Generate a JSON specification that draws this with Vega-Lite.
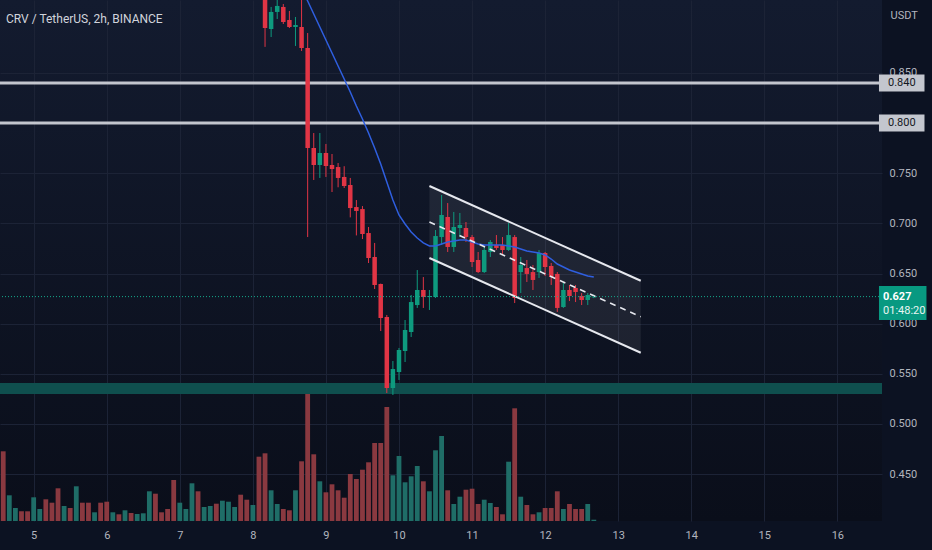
{
  "$schema": "https://vega.github.io/schema/vega-lite/v6.json",
  "width": 882,
  "height": 521,
  "autosize": {"type": "none"},
  "padding": {"left": 0, "top": 0, "right": 50, "bottom": 29},
  "background": "#0c1222",
  "view": {
    "stroke": null,
    "fill": {
      "gradient": "linear",
      "x1": 0, "y1": 0, "x2": 0, "y2": 1,
      "stops": [
        {"offset": 0, "color": "#131b2f"},
        {"offset": 1, "color": "#0a0e1a"}
      ]
    }
  },
  "title": {
    "text": "CRV / TetherUS, 2h, BINANCE",
    "anchor": "start",
    "frame": "group",
    "orient": "top",
    "offset": -31,
    "dx": 6,
    "baseline": "middle",
    "fontSize": 12,
    "fontWeight": "normal",
    "color": "#d1d4dc",
    "font": "Liberation Sans Narrow, Roboto, sans-serif"
  },
  "config": {
    "font": "Liberation Sans Narrow, Roboto, sans-serif",
    "axis": {"labelFont": "Liberation Sans Narrow, Roboto, sans-serif", "titleFont": "Liberation Sans Narrow, Roboto, sans-serif"},
    "text": {"font": "Liberation Sans Narrow, Roboto, sans-serif"}
  },
  "datasets": {
    "bars": [
      {"t": "2022-06-04T14:00", "v": 697, "dir": "down"},
      {"t": "2022-06-04T16:00", "v": 257, "dir": "up"},
      {"t": "2022-06-04T18:00", "v": 130, "dir": "up"},
      {"t": "2022-06-04T20:00", "v": 97, "dir": "down"},
      {"t": "2022-06-04T22:00", "v": 97, "dir": "down"},
      {"t": "2022-06-05T00:00", "v": 237, "dir": "up"},
      {"t": "2022-06-05T02:00", "v": 120, "dir": "up"},
      {"t": "2022-06-05T04:00", "v": 217, "dir": "down"},
      {"t": "2022-06-05T06:00", "v": 183, "dir": "down"},
      {"t": "2022-06-05T08:00", "v": 327, "dir": "down"},
      {"t": "2022-06-05T10:00", "v": 150, "dir": "up"},
      {"t": "2022-06-05T12:00", "v": 130, "dir": "down"},
      {"t": "2022-06-05T14:00", "v": 347, "dir": "up"},
      {"t": "2022-06-05T16:00", "v": 183, "dir": "down"},
      {"t": "2022-06-05T18:00", "v": 183, "dir": "down"},
      {"t": "2022-06-05T20:00", "v": 87, "dir": "up"},
      {"t": "2022-06-05T22:00", "v": 183, "dir": "down"},
      {"t": "2022-06-06T00:00", "v": 193, "dir": "down"},
      {"t": "2022-06-06T02:00", "v": 87, "dir": "up"},
      {"t": "2022-06-06T04:00", "v": 67, "dir": "down"},
      {"t": "2022-06-06T06:00", "v": 107, "dir": "up"},
      {"t": "2022-06-06T08:00", "v": 80, "dir": "down"},
      {"t": "2022-06-06T10:00", "v": 70, "dir": "up"},
      {"t": "2022-06-06T12:00", "v": 77, "dir": "up"},
      {"t": "2022-06-06T14:00", "v": 297, "dir": "up"},
      {"t": "2022-06-06T16:00", "v": 273, "dir": "down"},
      {"t": "2022-06-06T18:00", "v": 87, "dir": "down"},
      {"t": "2022-06-06T20:00", "v": 120, "dir": "down"},
      {"t": "2022-06-06T22:00", "v": 410, "dir": "down"},
      {"t": "2022-06-07T00:00", "v": 183, "dir": "up"},
      {"t": "2022-06-07T02:00", "v": 120, "dir": "up"},
      {"t": "2022-06-07T04:00", "v": 377, "dir": "up"},
      {"t": "2022-06-07T06:00", "v": 297, "dir": "down"},
      {"t": "2022-06-07T08:00", "v": 140, "dir": "up"},
      {"t": "2022-06-07T10:00", "v": 150, "dir": "up"},
      {"t": "2022-06-07T12:00", "v": 173, "dir": "down"},
      {"t": "2022-06-07T14:00", "v": 203, "dir": "up"},
      {"t": "2022-06-07T16:00", "v": 193, "dir": "up"},
      {"t": "2022-06-07T18:00", "v": 140, "dir": "up"},
      {"t": "2022-06-07T20:00", "v": 263, "dir": "down"},
      {"t": "2022-06-07T22:00", "v": 213, "dir": "down"},
      {"t": "2022-06-08T00:00", "v": 160, "dir": "up"},
      {"t": "2022-06-08T02:00", "v": 643, "dir": "down"},
      {"t": "2022-06-08T04:00", "v": 677, "dir": "down", "o": 0.945, "h": 0.95, "l": 0.876, "c": 0.8948},
      {"t": "2022-06-08T06:00", "v": 307, "dir": "up", "o": 0.8938, "h": 0.9158, "l": 0.8858, "c": 0.9108},
      {"t": "2022-06-08T08:00", "v": 170, "dir": "up", "o": 0.9108, "h": 0.93, "l": 0.9038, "c": 0.9168},
      {"t": "2022-06-08T10:00", "v": 120, "dir": "down", "o": 0.9158, "h": 0.9187, "l": 0.8988, "c": 0.9008},
      {"t": "2022-06-08T12:00", "v": 107, "dir": "down", "o": 0.9028, "h": 0.9118, "l": 0.8948, "c": 0.8958},
      {"t": "2022-06-08T14:00", "v": 307, "dir": "up", "o": 0.8958, "h": 0.9058, "l": 0.8769, "c": 0.8978},
      {"t": "2022-06-08T16:00", "v": 597, "dir": "down", "o": 0.8958, "h": 0.93, "l": 0.8719, "c": 0.8749, "ma": 0.9347},
      {"t": "2022-06-08T18:00", "v": 1290, "dir": "down", "o": 0.8749, "h": 0.8898, "l": 0.6864, "c": 0.7752, "ma": 0.9217},
      {"t": "2022-06-08T20:00", "v": 667, "dir": "down", "o": 0.7752, "h": 0.7901, "l": 0.7433, "c": 0.7582, "ma": 0.9088},
      {"t": "2022-06-08T22:00", "v": 397, "dir": "up", "o": 0.7582, "h": 0.7901, "l": 0.7453, "c": 0.7702, "ma": 0.8958},
      {"t": "2022-06-09T00:00", "v": 287, "dir": "down", "o": 0.7702, "h": 0.7792, "l": 0.7463, "c": 0.7572, "ma": 0.8829},
      {"t": "2022-06-09T02:00", "v": 367, "dir": "down", "o": 0.7582, "h": 0.7692, "l": 0.7313, "c": 0.7542, "ma": 0.8699},
      {"t": "2022-06-09T04:00", "v": 307, "dir": "down", "o": 0.7562, "h": 0.7602, "l": 0.736, "c": 0.7453, "ma": 0.8569},
      {"t": "2022-06-09T06:00", "v": 233, "dir": "down", "o": 0.7463, "h": 0.757, "l": 0.7353, "c": 0.7373, "ma": 0.844},
      {"t": "2022-06-09T08:00", "v": 470, "dir": "down", "o": 0.7383, "h": 0.7453, "l": 0.706, "c": 0.7153, "ma": 0.831},
      {"t": "2022-06-09T10:00", "v": 420, "dir": "down", "o": 0.7163, "h": 0.7233, "l": 0.688, "c": 0.7124, "ma": 0.817},
      {"t": "2022-06-09T12:00", "v": 513, "dir": "down", "o": 0.7143, "h": 0.7173, "l": 0.6844, "c": 0.6894, "ma": 0.8041},
      {"t": "2022-06-09T14:00", "v": 587, "dir": "down", "o": 0.6904, "h": 0.6964, "l": 0.6605, "c": 0.6655, "ma": 0.7901},
      {"t": "2022-06-09T16:00", "v": 780, "dir": "down", "o": 0.6665, "h": 0.6805, "l": 0.6346, "c": 0.6386, "ma": 0.7752},
      {"t": "2022-06-09T18:00", "v": 780, "dir": "down", "o": 0.6396, "h": 0.64, "l": 0.5927, "c": 0.6057, "ma": 0.7592},
      {"t": "2022-06-09T20:00", "v": 1140, "dir": "down", "o": 0.6067, "h": 0.6087, "l": 0.5309, "c": 0.5359, "ma": 0.7413},
      {"t": "2022-06-09T22:00", "v": 457, "dir": "up", "o": 0.5359, "h": 0.5628, "l": 0.5289, "c": 0.5548, "ma": 0.7233},
      {"t": "2022-06-10T00:00", "v": 650, "dir": "up", "o": 0.5518, "h": 0.5758, "l": 0.5439, "c": 0.5738, "ma": 0.7084},
      {"t": "2022-06-10T02:00", "v": 387, "dir": "up", "o": 0.5728, "h": 0.6037, "l": 0.5618, "c": 0.5937, "ma": 0.6994},
      {"t": "2022-06-10T04:00", "v": 447, "dir": "up", "o": 0.5917, "h": 0.6286, "l": 0.5867, "c": 0.6216, "ma": 0.6914},
      {"t": "2022-06-10T06:00", "v": 550, "dir": "up", "o": 0.6186, "h": 0.6535, "l": 0.6157, "c": 0.6336, "ma": 0.6854},
      {"t": "2022-06-10T08:00", "v": 397, "dir": "down", "o": 0.6336, "h": 0.6465, "l": 0.6157, "c": 0.6266, "ma": 0.6805},
      {"t": "2022-06-10T10:00", "v": 297, "dir": "up", "o": 0.6266, "h": 0.6336, "l": 0.6137, "c": 0.6276, "ma": 0.6775},
      {"t": "2022-06-10T12:00", "v": 707, "dir": "up", "o": 0.6266, "h": 0.6934, "l": 0.6256, "c": 0.6874, "ma": 0.6775},
      {"t": "2022-06-10T14:00", "v": 850, "dir": "up", "o": 0.6864, "h": 0.7283, "l": 0.6785, "c": 0.7084, "ma": 0.6795},
      {"t": "2022-06-10T16:00", "v": 307, "dir": "down", "o": 0.7064, "h": 0.7203, "l": 0.6715, "c": 0.6765, "ma": 0.6815},
      {"t": "2022-06-10T18:00", "v": 170, "dir": "up", "o": 0.6765, "h": 0.7114, "l": 0.6715, "c": 0.6964, "ma": 0.6825},
      {"t": "2022-06-10T20:00", "v": 243, "dir": "up", "o": 0.6954, "h": 0.7104, "l": 0.6864, "c": 0.6984, "ma": 0.6835},
      {"t": "2022-06-10T22:00", "v": 313, "dir": "down", "o": 0.6954, "h": 0.7014, "l": 0.6815, "c": 0.6864, "ma": 0.6835},
      {"t": "2022-06-11T00:00", "v": 323, "dir": "down", "o": 0.6864, "h": 0.6884, "l": 0.6565, "c": 0.6615, "ma": 0.6815},
      {"t": "2022-06-11T02:00", "v": 170, "dir": "down", "o": 0.6635, "h": 0.6715, "l": 0.6505, "c": 0.6515, "ma": 0.6795},
      {"t": "2022-06-11T04:00", "v": 213, "dir": "up", "o": 0.6515, "h": 0.6765, "l": 0.6505, "c": 0.6735, "ma": 0.6785},
      {"t": "2022-06-11T06:00", "v": 180, "dir": "up", "o": 0.6715, "h": 0.6834, "l": 0.6665, "c": 0.6815, "ma": 0.6785},
      {"t": "2022-06-11T08:00", "v": 140, "dir": "down", "o": 0.6785, "h": 0.6884, "l": 0.6735, "c": 0.6755, "ma": 0.6785},
      {"t": "2022-06-11T10:00", "v": 67, "dir": "down", "o": 0.6785, "h": 0.6864, "l": 0.6695, "c": 0.6735, "ma": 0.6785},
      {"t": "2022-06-11T12:00", "v": 593, "dir": "up", "o": 0.6735, "h": 0.7004, "l": 0.6725, "c": 0.6884, "ma": 0.6775},
      {"t": "2022-06-11T14:00", "v": 1127, "dir": "down", "o": 0.6864, "h": 0.6884, "l": 0.6206, "c": 0.6256, "ma": 0.6765},
      {"t": "2022-06-11T16:00", "v": 243, "dir": "up", "o": 0.6515, "h": 0.6665, "l": 0.6306, "c": 0.6585, "ma": 0.6745},
      {"t": "2022-06-11T18:00", "v": 160, "dir": "down", "o": 0.6555, "h": 0.6635, "l": 0.6416, "c": 0.6496, "ma": 0.6725},
      {"t": "2022-06-11T20:00", "v": 67, "dir": "down", "o": 0.6515, "h": 0.6585, "l": 0.6336, "c": 0.6436, "ma": 0.6715},
      {"t": "2022-06-11T22:00", "v": 87, "dir": "up", "o": 0.6515, "h": 0.6735, "l": 0.6456, "c": 0.6705, "ma": 0.6705},
      {"t": "2022-06-12T00:00", "v": 130, "dir": "down", "o": 0.6705, "h": 0.6715, "l": 0.6476, "c": 0.6565, "ma": 0.6685},
      {"t": "2022-06-12T02:00", "v": 130, "dir": "down", "o": 0.6575, "h": 0.6605, "l": 0.6386, "c": 0.6466, "ma": 0.6645},
      {"t": "2022-06-12T04:00", "v": 297, "dir": "down", "o": 0.6496, "h": 0.6515, "l": 0.6117, "c": 0.6157, "ma": 0.6595},
      {"t": "2022-06-12T06:00", "v": 120, "dir": "up", "o": 0.6166, "h": 0.6406, "l": 0.6157, "c": 0.6336, "ma": 0.6565},
      {"t": "2022-06-12T08:00", "v": 170, "dir": "down", "o": 0.6336, "h": 0.6386, "l": 0.6226, "c": 0.6276, "ma": 0.6535},
      {"t": "2022-06-12T10:00", "v": 120, "dir": "down", "o": 0.6356, "h": 0.6386, "l": 0.6216, "c": 0.6316, "ma": 0.6515},
      {"t": "2022-06-12T12:00", "v": 120, "dir": "down", "o": 0.6276, "h": 0.6306, "l": 0.6186, "c": 0.6236, "ma": 0.6496},
      {"t": "2022-06-12T14:00", "v": 170, "dir": "up", "o": 0.6236, "h": 0.6306, "l": 0.6186, "c": 0.6286, "ma": 0.6476},
      {"t": "2022-06-12T16:00", "v": 13, "dir": "up", "o": 0.6262, "h": 0.629, "l": 0.6255, "c": 0.627, "ma": 0.6466}
    ],
    "channel": [
      {"t": "2022-06-10T10:00", "upper": 0.7373, "mid": 0.7014, "lower": 0.6655},
      {"t": "2022-06-13T07:25", "upper": 0.6428, "mid": 0.6069, "lower": 0.571}
    ],
    "one": [{}]
  },
  "resolve": {"scale": {"y": "independent"}},
  "layer": [
    {
      "data": {"name": "bars"},
      "mark": {"type": "bar", "width": 4.8, "clip": true},
      "encoding": {
        "x": {
          "field": "t",
          "type": "temporal",
          "scale": {
            "domain": [
              {"year": 2022, "month": 6, "date": 4, "hours": 14, "minutes": 35},
              {"year": 2022, "month": 6, "date": 16, "hours": 13, "minutes": 1}
            ]
          },
          "axis": {
            "title": null,
            "format": "%-d",
            "values": [
              {"year": 2022, "month": 6, "date": 5},
              {"year": 2022, "month": 6, "date": 6},
              {"year": 2022, "month": 6, "date": 7},
              {"year": 2022, "month": 6, "date": 8},
              {"year": 2022, "month": 6, "date": 9},
              {"year": 2022, "month": 6, "date": 10},
              {"year": 2022, "month": 6, "date": 11},
              {"year": 2022, "month": 6, "date": 12},
              {"year": 2022, "month": 6, "date": 13},
              {"year": 2022, "month": 6, "date": 14},
              {"year": 2022, "month": 6, "date": 15},
              {"year": 2022, "month": 6, "date": 16}
            ],
            "labelColor": "#b2b5be",
            "labelFontSize": 11,
            "labelPadding": 8,
            "ticks": false,
            "domain": false,
            "grid": true,
            "gridColor": "#1c2336"
          }
        },
        "y": {
          "field": "v",
          "type": "quantitative",
          "scale": {"domain": [0, 5210], "nice": false},
          "axis": null
        },
        "color": {
          "condition": {"test": "datum.dir === 'up'", "value": "#1f6d67"},
          "value": "#8a3940"
        }
      }
    },
    {
      "layer": [
        {
          "data": {"name": "one"},
          "mark": {"type": "rect", "color": "#0f4f4e", "clip": true},
          "encoding": {
            "y": {
              "datum": 0.5299,
              "type": "quantitative",
              "scale": {"domain": [0.40329, 0.92273], "nice": false, "zero": false},
              "axis": {
                "orient": "right",
                "values": [0.45, 0.5, 0.55, 0.6, 0.65, 0.7, 0.75, 0.8, 0.85],
                "format": ".3f",
                "labelColor": "#b2b5be",
                "labelFontSize": 11,
                "labelPadding": 7,
                "ticks": false,
                "domain": false,
                "grid": true,
                "gridColor": "#1c2336",
                "title": "USDT",
                "titleAngle": 0,
                "titleAlign": "left",
                "titleBaseline": "middle",
                "titleX": 8,
                "titleY": 15,
                "titleColor": "#b2b5be",
                "titleFontSize": 11,
                "titleFontWeight": "normal"
              }
            },
            "y2": {"datum": 0.5409}
          }
        },
        {
          "data": {"values": [{"level": 0.84}, {"level": 0.8}]},
          "mark": {"type": "rule", "color": "#c3c6ce", "strokeWidth": 3, "clip": true},
          "encoding": {
            "y": {"field": "level", "type": "quantitative"}
          }
        },
        {
          "data": {"name": "channel"},
          "mark": {"type": "area", "color": "#ffffff", "opacity": 0.07, "clip": true},
          "encoding": {
            "x": {"field": "t", "type": "temporal"},
            "y": {"field": "lower", "type": "quantitative"},
            "y2": {"field": "upper"}
          }
        },
        {
          "data": {"name": "bars"},
          "mark": {"type": "rule", "strokeWidth": 1, "clip": true},
          "encoding": {
            "x": {"field": "t", "type": "temporal"},
            "y": {"field": "l", "type": "quantitative"},
            "y2": {"field": "h"},
            "color": {
              "condition": {"test": "datum.dir === 'up'", "value": "#0e9a7e"},
              "value": "#e13545"
            }
          }
        },
        {
          "data": {"name": "bars"},
          "mark": {"type": "bar", "width": 4.5, "clip": true},
          "encoding": {
            "x": {"field": "t", "type": "temporal"},
            "y": {"field": "o", "type": "quantitative"},
            "y2": {"field": "c"},
            "color": {
              "condition": {"test": "datum.dir === 'up'", "value": "#0e9a7e"},
              "value": "#e13545"
            }
          }
        },
        {
          "data": {"name": "bars"},
          "mark": {"type": "line", "color": "#2f5fe0", "strokeWidth": 1.5, "clip": true},
          "encoding": {
            "x": {"field": "t", "type": "temporal"},
            "y": {"field": "ma", "type": "quantitative"}
          }
        },
        {
          "data": {"name": "channel"},
          "mark": {"type": "line", "color": "#e6e8ee", "strokeWidth": 2, "clip": true},
          "encoding": {
            "x": {"field": "t", "type": "temporal"},
            "y": {"field": "upper", "type": "quantitative"}
          }
        },
        {
          "data": {"name": "channel"},
          "mark": {"type": "line", "color": "#e6e8ee", "strokeWidth": 2, "clip": true},
          "encoding": {
            "x": {"field": "t", "type": "temporal"},
            "y": {"field": "lower", "type": "quantitative"}
          }
        },
        {
          "data": {"name": "channel"},
          "mark": {"type": "line", "color": "#e6e8ee", "strokeWidth": 1.5, "strokeDash": [6, 5], "clip": true},
          "encoding": {
            "x": {"field": "t", "type": "temporal"},
            "y": {"field": "mid", "type": "quantitative"}
          }
        },
        {
          "data": {"name": "one"},
          "mark": {"type": "rule", "color": "#15a88c", "strokeWidth": 1, "strokeDash": [1, 2], "clip": true},
          "encoding": {
            "y": {"datum": 0.627, "type": "quantitative"}
          }
        },
        {
          "data": {"name": "one"},
          "mark": {"type": "rect", "color": "#c3c6ce", "clip": false},
          "encoding": {
            "x": {"datum": {"year": 2022, "month": 6, "date": 16, "hours": 13, "minutes": 40}, "type": "temporal"},
            "x2": {"datum": {"year": 2022, "month": 6, "date": 17, "hours": 4, "minutes": 37}},
            "y": {"datum": 0.8315, "type": "quantitative"},
            "y2": {"datum": 0.8485}
          }
        },
        {
          "data": {"name": "one"},
          "mark": {"type": "rect", "color": "#c3c6ce", "clip": false},
          "encoding": {
            "x": {"datum": {"year": 2022, "month": 6, "date": 16, "hours": 13, "minutes": 40}, "type": "temporal"},
            "x2": {"datum": {"year": 2022, "month": 6, "date": 17, "hours": 4, "minutes": 37}},
            "y": {"datum": 0.7915, "type": "quantitative"},
            "y2": {"datum": 0.8085}
          }
        },
        {
          "data": {"values": [{"level": 0.84, "label": "0.840"}, {"level": 0.8, "label": "0.800"}]},
          "mark": {"type": "text", "color": "#131722", "fontSize": 11, "align": "center", "baseline": "middle", "clip": false},
          "encoding": {
            "x": {"datum": {"year": 2022, "month": 6, "date": 16, "hours": 21, "minutes": 10}, "type": "temporal"},
            "y": {"field": "level", "type": "quantitative"},
            "text": {"field": "label"}
          }
        },
        {
          "data": {"name": "one"},
          "mark": {"type": "rect", "color": "#089981", "clip": false},
          "encoding": {
            "x": {"datum": {"year": 2022, "month": 6, "date": 16, "hours": 13, "minutes": 40}, "type": "temporal"},
            "x2": {"datum": {"year": 2022, "month": 6, "date": 17, "hours": 5, "minutes": 16}},
            "y": {"datum": 0.6037, "type": "quantitative"},
            "y2": {"datum": 0.6376}
          }
        },
        {
          "data": {"name": "one"},
          "mark": {"type": "text", "color": "#ffffff", "fontSize": 11, "fontWeight": "bold", "align": "left", "baseline": "middle", "clip": false},
          "encoding": {
            "x": {"datum": {"year": 2022, "month": 6, "date": 16, "hours": 15, "minutes": 0}, "type": "temporal"},
            "y": {"datum": 0.6266, "type": "quantitative"},
            "text": {"value": "0.627"}
          }
        },
        {
          "data": {"name": "one"},
          "mark": {"type": "text", "color": "#e8f5f2", "fontSize": 11, "align": "left", "baseline": "middle", "clip": false},
          "encoding": {
            "x": {"datum": {"year": 2022, "month": 6, "date": 16, "hours": 15, "minutes": 0}, "type": "temporal"},
            "y": {"datum": 0.6127, "type": "quantitative"},
            "text": {"value": "01:48:20"}
          }
        }
      ]
    }
  ]
}
